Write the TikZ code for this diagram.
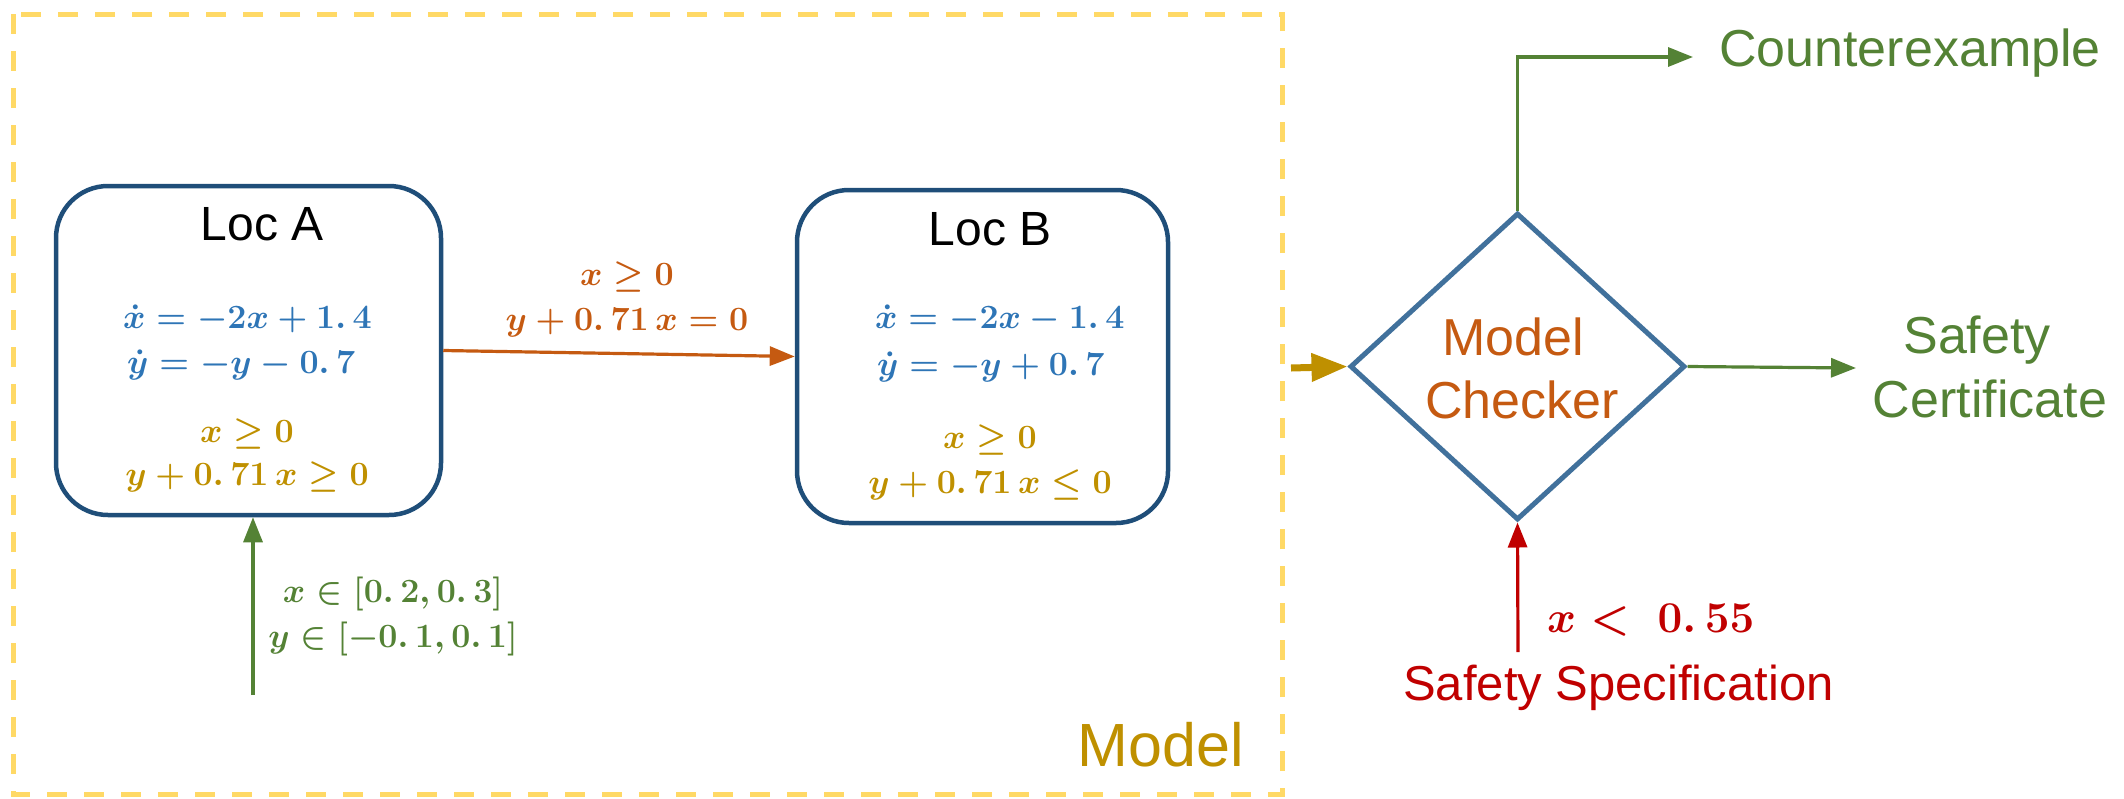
\RequirePackage{fix-cm}
\documentclass[tikz,border=0pt]{standalone}
\usepackage[no-math]{fontspec}
\setmainfont{Liberation Sans}
\usetikzlibrary{arrows.meta,shapes.geometric}
\definecolor{boxblue}{HTML}{1F4E79}
\definecolor{dmblue}{HTML}{41719C}
\definecolor{eqblue}{HTML}{2E75B6}
\definecolor{eqgold}{HTML}{BF9000}
\definecolor{eqorange}{HTML}{C55A11}
\definecolor{eqgreen}{HTML}{548235}
\definecolor{eqred}{HTML}{C00000}
\definecolor{dashgold}{HTML}{FFD966}
\begin{document}
\begin{tikzpicture}[x=1pt,y=-1pt,
  locbox/.style={draw=boxblue, line width=4.5pt, rounded corners=52pt, inner sep=0pt},
  eqn/.style={inner sep=0pt, font=\fontsize{34}{40}\selectfont\boldmath},
  eqnbig/.style={inner sep=0pt, font=\fontsize{44}{50}\selectfont\boldmath},
  title/.style={inner sep=0pt, font=\fontsize{48}{56}\selectfont},
  lbl/.style={inner sep=0pt, font=\fontsize{52}{60}\selectfont},
  flow/.style={line width=3.2pt},
  tip/.style={-{Triangle[length=25pt,width=19pt]}},
  dashbox/.style={draw=dashgold, line width=5pt, dash pattern=on 20pt off 17pt}
]
\useasboundingbox (0,0) rectangle (2124,798);

% Model frame
\draw[dashbox] (13,14) rectangle (1282,794);
\node[inner sep=0pt, anchor=base, text=eqgold, font=\fontsize{61}{70}\selectfont] (modellbl) at (1161,766) {Model};

% Location A
\node[locbox, minimum width=385pt, minimum height=329pt] (locA) at (248.5,350.5) {};
\node[title, anchor=base] (locAt) at (262,240) {Loc A};
\node[eqn, anchor=base west, text=eqblue] (a1) at (123,328) {$\dot{x} = -2x + 1.\,4$};
\node[eqn, anchor=base west, text=eqblue] (a2) at (127,373) {$\dot{y} = -y - 0.\,7$};
\node[eqn, anchor=base, text=eqgold] (a3) at (247,442) {$x \geq 0$};
\node[eqn, anchor=base, text=eqgold] (a4) at (247,485) {$y + 0.\,71\,x \geq 0$};

% Location B
\node[locbox, minimum width=371pt, minimum height=333pt] (locB) at (982.5,356.5) {};
\node[title, anchor=base] (locBt) at (990,245) {Loc B};
\node[eqn, anchor=base west, text=eqblue] (b1) at (875,328) {$\dot{x} = -2x - 1.\,4$};
\node[eqn, anchor=base west, text=eqblue] (b2) at (877,375) {$\dot{y} = -y + 0.\,7$};
\node[eqn, anchor=base, text=eqgold] (b3) at (990,448) {$x \geq 0$};
\node[eqn, anchor=base, text=eqgold] (b4) at (990,493) {$y + 0.\,71\,x \leq 0$};

% transition
\draw[flow, tip, draw=eqorange] (locA.east) -- (locB.west);
\node[eqn, anchor=base, text=eqorange] (g1) at (627,285) {$x \geq 0$};
\node[eqn, anchor=base, text=eqorange] (g2) at (627,330) {$y + 0.\,71\,x = 0$};

% initial
\coordinate (init) at (253,695);
\draw[flow, tip, draw=eqgreen] (init) -- (init |- locA.south);
\node[eqn, anchor=base, text=eqgreen] (i1) at (393,602) {$x \in [0.\,2, 0.\,3]$};
\node[eqn, anchor=base, text=eqgreen] (i2) at (393,647) {$y \in [-0.\,1, 0.\,1]$};

% model checker
\node[diamond, draw=dmblue, line width=5pt, minimum width=335pt, minimum height=307pt, inner sep=0pt] (mc) at (1517.5,366.5) {};
\node[lbl, anchor=base, text=eqorange] (mc1) at (1513,355) {Model};
\node[lbl, anchor=base, text=eqorange] (mc2) at (1522,418) {Checker};

\coordinate (modelout) at (1291,368);
\draw[line width=7pt, draw=eqgold, -{Triangle[length=36pt,width=27pt]}] (modelout) -- (mc.west);

% counterexample
\coordinate (cexend) at (1693,57);
\draw[flow, tip, draw=eqgreen] (mc.north) -- (mc.north |- cexend) -- (cexend);
\node[lbl, anchor=base west, text=eqgreen] (cex) at (1719,66) {Counterexample};

% safety certificate
\coordinate (certend) at (1856,368);
\draw[flow, tip, draw=eqgreen] (mc.east) -- (certend);
\node[lbl, anchor=base, text=eqgreen] (sc1) at (1977,353) {Safety};
\node[lbl, anchor=base, text=eqgreen] (sc2) at (1990,417) {Certificate};

% safety specification
\coordinate (specin) at (1518,652);
\draw[flow, tip, draw=eqred] (specin) -- (mc.south);
\node[eqnbig, anchor=base west, text=eqred] (spec) at (1547,632) {$x <\; 0.\,55$};
\node[inner sep=0pt, anchor=base west, text=eqred, font=\fontsize{49}{56}\selectfont] (specl) at (1403,700) {Safety Specification};
\end{tikzpicture}
\end{document}
